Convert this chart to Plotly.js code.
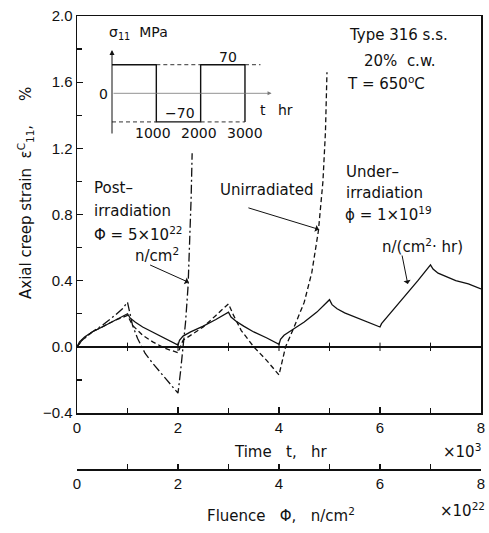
<!DOCTYPE html>
<html><head><meta charset="utf-8">
<script src="https://cdn.plot.ly/plotly-3.0.1.min.js"></script>
<style>body{margin:0;background:#fff}</style>
</head><body>
<div id="chart" style="width:489px;height:533px"></div>
<script>
// ---- data (time in 10^3 hr, strain in %) ----
const tUnder = [0,0.05,0.15,0.3,0.5,0.75,1.0, 1.05,1.15,1.3,1.5,1.75,2.0, 2.03,2.1,2.25,2.5,2.75,3.0, 3.05,3.15,3.3,3.5,3.75,4.0, 4.03,4.1,4.25,4.5,4.75,5.0, 5.05,5.15,5.3,5.5,5.75,6.0, 6.03,6.1,6.25,6.5,6.75,7.0, 7.05,7.15,7.3,7.5,7.75,8.0];
const eUnder = [0,0.03,0.06,0.09,0.12,0.16,0.20, 0.175,0.15,0.12,0.09,0.05,0.01, 0.04,0.065,0.09,0.125,0.165,0.21, 0.18,0.155,0.125,0.09,0.055,0.015, 0.045,0.07,0.10,0.15,0.21,0.285, 0.255,0.23,0.205,0.18,0.15,0.12, 0.14,0.165,0.22,0.31,0.40,0.495, 0.47,0.445,0.425,0.40,0.38,0.35];

const tUnirr = [0,0.1,0.3,0.5,0.75,1.0, 1.1,1.3,1.5,1.75,2.0, 2.1,2.3,2.5,2.75,3.0, 3.1,3.25,3.5,3.75,4.0, 4.13,4.3,4.5,4.65,4.78,4.87,4.92,4.95];
const eUnirr = [0,0.04,0.09,0.12,0.16,0.19, 0.13,0.07,0.03,-0.01,-0.035, 0.04,0.08,0.12,0.19,0.26, 0.19,0.10,0.0,-0.08,-0.17, 0.0,0.12,0.27,0.45,0.70,1.0,1.3,1.66];

const tPost = [0,0.1,0.3,0.5,0.75,0.9,1.0, 1.1,1.2,1.35,1.5,1.75,2.0, 2.05,2.1,2.15,2.2,2.23,2.26,2.28];
const ePost = [0,0.04,0.09,0.13,0.19,0.23,0.27, 0.13,0.05,-0.04,-0.10,-0.19,-0.28, -0.15,-0.01,0.15,0.37,0.62,0.90,1.17];

const zeroTicks = [1,2,3,4,5,6,7];

// inset: stress history (hr, MPa)
const stressT = [0,1000,1000,2000,2000,3000,3000];
const stressV = [70,70,-70,-70,70,70,-70];
const refT = [0,1000,null,1000,2000,null,2000,3000,null,3000,3350];
const refV = [-70,-70,null,70,70,null,-70,-70,null,70,70];

const yTicks = [-0.4,0,0.4,0.8,1.2,1.6,2.0];
const yMinor = [-0.2,0.2,0.6,1.0,1.4,1.8];
const xTicks = [0,2,4,6,8];
const xMinor = [1,3,5,7];
const fluTicks = [0,2,4,6,8];
const fluMinor = [1,3,5,7];

// ---- layout helpers (pixel -> paper) ----
const L=77, R=8, T=16, B=40, W=489, H=533;
const pw=W-L-R, ph=H-T-B;
const px=(p)=>(p-L)/pw;
const py=(p)=>(H-B-p)/ph;

const F='DejaVu Sans, sans-serif';
const TF='Liberation Sans, Arial, sans-serif';
const INK='#111';

const traces = [
 {x:tUnder,y:eUnder,mode:'lines',line:{color:INK,width:1.3},xaxis:'x',yaxis:'y',hoverinfo:'none'},
 {x:tUnirr,y:eUnirr,mode:'lines',line:{color:INK,width:1.3,dash:'5px,3px'},xaxis:'x',yaxis:'y',hoverinfo:'none'},
 {x:tPost,y:ePost,mode:'lines',line:{color:INK,width:1.3,dash:'9px,3px,2px,3px'},xaxis:'x',yaxis:'y',hoverinfo:'none'},
 {x:zeroTicks,y:zeroTicks.map(()=>0),mode:'markers',marker:{symbol:'line-ns',size:6,line:{color:INK,width:1}},xaxis:'x',yaxis:'y',hoverinfo:'none'},
 {x:stressT,y:stressV,mode:'lines',line:{color:INK,width:1.4},xaxis:'x2',yaxis:'y2',hoverinfo:'none'},
 {x:refT,y:refV,mode:'lines',line:{color:'#333',width:1,dash:'4px,3px'},xaxis:'x2',yaxis:'y2',hoverinfo:'none',connectgaps:false},
 {x:[],y:[],xaxis:'x3',yaxis:'y3',hoverinfo:'none'}
];

function txt(t,xp,yp,opt){
  return Object.assign({text:t,xref:'paper',yref:'paper',x:px(xp),y:py(yp),showarrow:false,
    xanchor:'left',yanchor:'middle',font:{family:F,size:15,color:INK}},opt||{});
}
const nb='\u00a0';
const small={family:F,size:14,color:INK};
const annotations = [
 // y title
 txt('Axial creep strain'+nb+nb+'ε<sup>C</sup><sub>11</sub>,'+nb+nb+nb+nb+nb+'%',25,193,{textangle:-90,xanchor:'center'}),
 // x titles
 txt('Time'+nb+nb+nb+'t,'+nb+nb+nb+'hr',280,452,{xanchor:'center'}),
 txt('×10<sup>3</sup>',483,451,{xanchor:'right'}),
 txt('Fluence'+nb+nb+nb+'Φ,'+nb+nb+nb+'n/cm<sup>2</sup>',281,515,{xanchor:'center'}),
 txt('×10<sup>22</sup>',487,510,{xanchor:'right'}),
 // conditions
 txt('Type 316 s.s.',347,35),
 txt('20%'+nb+' c.w.',362,61),
 txt('T = 650<sup>o</sup>C',345,83),
 // post-irradiation
 txt('Post–',92,188),
 txt('irradiation',92,211),
 txt('Φ = 5×10<sup>22</sup>',92,234),
 txt('n/cm<sup>2</sup>',133,255),
 // unirradiated
 txt('Unirradiated',218,190),
 // under-irradiation
 txt('Under–',344,172),
 txt('irradiation',344,193),
 txt('ϕ = 1×10<sup>19</sup>',343,214),
 txt('n/(cm<sup>2</sup>· hr)',380,246),
 // curve pointer arrows
 {xref:'x',yref:'y',x:2.21,y:0.39,ax:-40,ay:-18,text:'',showarrow:true,arrowhead:1,arrowsize:1.2,arrowwidth:1,arrowcolor:INK},
 {xref:'x',yref:'y',x:4.79,y:0.71,ax:-72,ay:-22,text:'',showarrow:true,arrowhead:1,arrowsize:1.2,arrowwidth:1,arrowcolor:INK},
 {xref:'x',yref:'y',x:6.55,y:0.38,ax:-6,ay:-30,text:'',showarrow:true,arrowhead:1,arrowsize:1.2,arrowwidth:1,arrowcolor:INK},
 // inset axes arrows
 {xref:'x2',yref:'y2',axref:'x2',ayref:'y2',x:0,y:106,ax:0,ay:-102,text:'',showarrow:true,arrowhead:2,arrowsize:1,arrowwidth:1,arrowcolor:INK},
 {xref:'x2',yref:'y2',axref:'x2',ayref:'y2',x:3600,y:0,ax:0,ay:0,text:'',showarrow:true,arrowhead:2,arrowsize:1,arrowwidth:0.8,arrowcolor:'#777'},
 // inset labels
 txt('σ<sub>11</sub>'+nb+nb+'MPa',107,33,{font:small}),
 txt('70',228,57,{xanchor:'center',font:small}),
 txt('0',103,94,{xanchor:'center',font:small}),
 txt('−70',180,113,{xanchor:'center',font:small}),
 txt('1000',153,133,{xanchor:'center',font:small}),
 txt('2000',199,133,{xanchor:'center',font:small}),
 txt('3000',245,133,{xanchor:'center',font:small}),
 txt('t',263,110,{xanchor:'center',font:small}),
 txt('hr',285,110,{xanchor:'center',font:small})
];

const tickCommon = {ticks:'inside',ticklen:6,tickwidth:1.2,tickcolor:INK,showgrid:false,
  showline:true,linecolor:INK,linewidth:1.5,tickfont:{family:TF,size:15,color:INK}};

const layout = {
 width:W,height:H,margin:{l:L,r:R,t:T,b:B,pad:0},
 paper_bgcolor:'#fff',plot_bgcolor:'#fff',showlegend:false,
 font:{family:TF,size:15,color:INK},
 xaxis:Object.assign({},tickCommon,{domain:[0,1],anchor:'y',range:[0,8],tickmode:'array',tickvals:xTicks,ticktext:xTicks.map(String),
   minor:{tickmode:'array',tickvals:xMinor,ticks:'inside',ticklen:5,tickwidth:1.2,tickcolor:INK,showgrid:false},
   mirror:true,zeroline:false}),
 yaxis:Object.assign({},tickCommon,{domain:[py(413),1],anchor:'x',range:[-0.4,2.0],tickmode:'array',tickvals:yTicks,
   ticktext:yTicks.map(v=>v.toFixed(1).replace('-','−')),
   minor:{tickmode:'array',tickvals:yMinor,ticks:'inside',ticklen:5,tickwidth:1.2,tickcolor:INK,showgrid:false},
   mirror:true,zeroline:true,zerolinecolor:INK,zerolinewidth:1.5}),
 xaxis2:{domain:[px(112),px(276)],anchor:'y2',range:[0,3700],visible:false},
 yaxis2:{domain:[py(135),py(50)],anchor:'x2',range:[-102,106],visible:false},
 xaxis3:Object.assign({},tickCommon,{domain:[0,1],anchor:'y3',range:[0,8],tickmode:'array',tickvals:fluTicks,ticktext:fluTicks.map(String),
   ticklen:5,
   minor:{tickmode:'array',tickvals:fluMinor,ticks:'inside',ticklen:5,tickwidth:1.2,tickcolor:INK,showgrid:false},
   zeroline:false}),
 yaxis3:{domain:[py(469),py(469)+0.01],anchor:'x3',range:[0,1],visible:false},
 annotations:annotations
};

Plotly.newPlot('chart',traces,layout,{staticPlot:true,displayModeBar:false});
</script>
</body></html>
